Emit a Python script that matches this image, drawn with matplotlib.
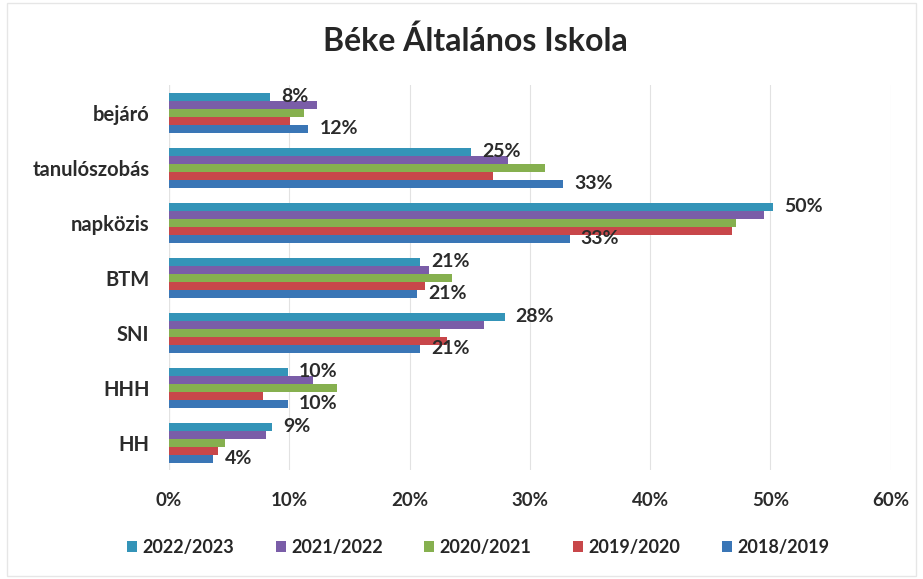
import numpy as np
import matplotlib.pyplot as plt

plt.rcParams['font.family'] = ['Lato', 'DejaVu Sans']

# categories top -> bottom
categories = ['bejáró', 'tanulószobás', 'napközis', 'BTM', 'SNI', 'HHH', 'HH']
years = ['2022/2023', '2021/2022', '2020/2021', '2019/2020', '2018/2019']

# values in percent
v_2022 = [8.4, 25.1, 50.2, 20.9, 27.9, 9.9, 8.6]
v_2021 = [12.3, 28.2, 49.5, 21.6, 26.2, 12.0, 8.1]
v_2020 = [11.2, 31.3, 47.1, 23.5, 22.5, 14.0, 4.7]
v_2019 = [10.1, 26.9, 46.8, 21.3, 23.1, 7.8, 4.1]
v_2018 = [11.6, 32.8, 33.3, 20.6, 20.9, 9.9, 3.7]

colours = ['#3494B8', '#7A5DA8', '#86B04F', '#C8474A', '#3A76B6']
series = [v_2022, v_2021, v_2020, v_2019, v_2018]

fig = plt.figure(figsize=(9.23, 5.79), dpi=100)
ax = fig.add_axes([0.183, 0.188, 0.782, 0.665])

n = len(categories)
centers = np.arange(n)
bar_h = 0.146

for i, (vals, col, lab) in enumerate(zip(series, colours, years)):
    y = centers + (i - 2) * bar_h
    ax.barh(y, np.array(vals) / 100, height=bar_h, color=col, label=lab, zorder=3)

# data labels: top series (2022/2023) and bottom series (2018/2019)
for idx in range(n):
    for i, vals in [(0, v_2022), (4, v_2018)]:
        y = centers[idx] + (i - 2) * bar_h
        ax.annotate(f'{round(vals[idx]):.0f}%', (vals[idx] / 100, y),
                    xytext=(8, 0), textcoords='offset points',
                    va='center', ha='left', fontsize=14, fontweight='bold',
                    color='#2b2b2b', zorder=5)

ax.set_xlim(0, 0.6)
ax.set_ylim(n - 0.5, -0.5)
ax.set_xticks(np.arange(0, 0.61, 0.1))
ax.set_xticklabels([f'{int(round(t * 100))}%' for t in np.arange(0, 0.61, 0.1)])
ax.set_yticks(centers)
ax.set_yticklabels(categories)

ax.tick_params(axis='x', length=0, pad=16, labelsize=13.5, labelcolor='#2b2b2b')
ax.tick_params(axis='y', length=0, pad=14, labelsize=14.5, labelcolor='#2b2b2b')
for t in ax.get_xticklabels() + ax.get_yticklabels():
    t.set_fontweight('bold')

ax.grid(axis='x', color='#e2e2e2', linewidth=0.8, zorder=0)
for s in ax.spines.values():
    s.set_visible(False)
ax.axvline(0, color='#d0d0d0', linewidth=0.8, zorder=1)

fig.text(0.515, 0.93, 'Béke Általános Iskola', ha='center', va='center',
         fontsize=23, fontweight='bold', color='#262626')

leg = fig.legend(loc='center', bbox_to_anchor=(0.518, 0.054), ncol=5,
                 frameon=False, fontsize=13, handlelength=0.55, handleheight=0.55,
                 handletextpad=0.3, columnspacing=2.3)
for t in leg.get_texts():
    t.set_fontweight('bold')
    t.set_color('#262626')

fig.patches.append(plt.Rectangle((0.008, 0.005), 0.984, 0.99, transform=fig.transFigure,
                                 fill=False, edgecolor='#e6e6e6', linewidth=1))

fig.savefig('out.png', dpi=100)
